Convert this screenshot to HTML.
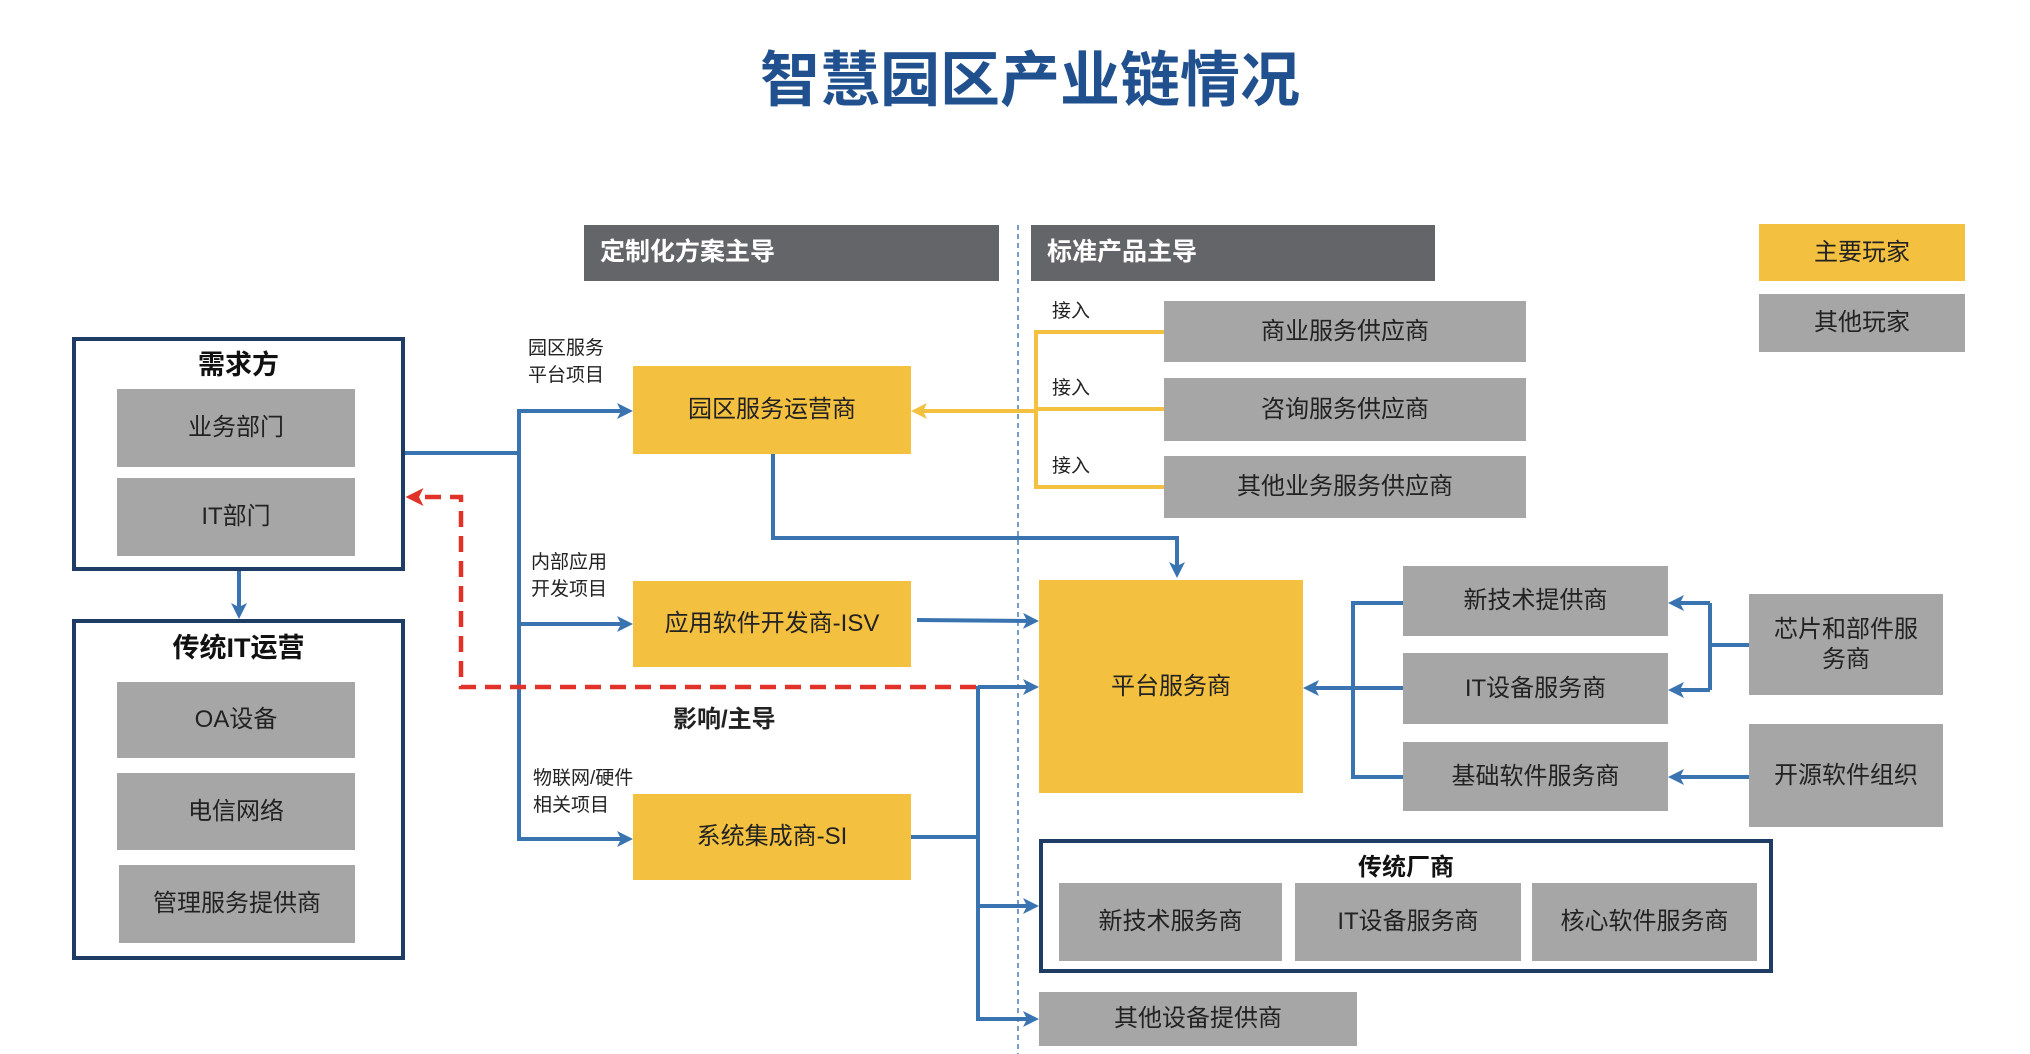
<!DOCTYPE html>
<html><head><meta charset="utf-8"><style>
body{margin:0;width:2030px;height:1054px;background:#fff;position:relative;overflow:hidden;font-family:"Liberation Sans","Noto Sans CJK SC",sans-serif;}
.b{position:absolute;display:flex;align-items:center;justify-content:center;text-align:center;font-size:24px;color:#222;box-sizing:border-box;line-height:1.25}
.g{background:#a6a6a6}
.y{background:#f3c03f}
.h{background:#646569;color:#fff;font-weight:bold;justify-content:flex-start;padding-left:16px;font-size:25px}
.f{position:absolute;border:4px solid #1f3c64;box-sizing:border-box}
.t{position:absolute;font-size:19px;color:#222;line-height:1.4}
.ti{position:absolute;font-weight:bold;font-size:27px;color:#111;text-align:center}
svg{position:absolute;left:0;top:0}
</style></head><body>
<div style="position:absolute;left:700px;width:660px;top:32px;text-align:center;font-size:60px;font-weight:bold;color:#21508f;">智慧园区产业链情况</div>

<div class="b h" style="left:584px;top:225px;width:415px;height:56px">定制化方案主导</div>
<div class="b h" style="left:1031px;top:225px;width:404px;height:56px">标准产品主导</div>
<div class="b y" style="left:1759px;top:224px;width:206px;height:57px">主要玩家</div>
<div class="b g" style="left:1759px;top:294px;width:206px;height:58px">其他玩家</div>

<div class="f" style="left:72px;top:337px;width:333px;height:234px"></div>
<div class="ti" style="left:72px;top:343px;width:333px">需求方</div>
<div class="b g" style="left:117px;top:389px;width:238px;height:78px">业务部门</div>
<div class="b g" style="left:117px;top:478px;width:238px;height:78px">IT部门</div>

<div class="f" style="left:72px;top:619px;width:333px;height:341px"></div>
<div class="ti" style="left:72px;top:626px;width:333px">传统IT运营</div>
<div class="b g" style="left:117px;top:682px;width:238px;height:76px">OA设备</div>
<div class="b g" style="left:117px;top:773px;width:238px;height:77px">电信网络</div>
<div class="b g" style="left:119px;top:865px;width:236px;height:78px">管理服务提供商</div>

<div class="t" style="left:528px;top:336px">园区服务<br>平台项目</div>
<div class="t" style="left:531px;top:550px">内部应用<br>开发项目</div>
<div class="t" style="left:533px;top:766px">物联网/硬件<br>相关项目</div>
<div class="b y" style="left:633px;top:366px;width:278px;height:88px">园区服务运营商</div>
<div class="b y" style="left:633px;top:581px;width:278px;height:86px">应用软件开发商-ISV</div>
<div class="b y" style="left:633px;top:794px;width:278px;height:86px">系统集成商-SI</div>
<div style="position:absolute;left:673px;top:699px;font-size:24px;font-weight:bold;color:#222">影响/主导</div>

<div class="t" style="left:1052px;top:299px">接入</div>
<div class="t" style="left:1052px;top:376px">接入</div>
<div class="t" style="left:1052px;top:454px">接入</div>
<div class="b g" style="left:1164px;top:301px;width:362px;height:61px">商业服务供应商</div>
<div class="b g" style="left:1164px;top:378px;width:362px;height:63px">咨询服务供应商</div>
<div class="b g" style="left:1164px;top:456px;width:362px;height:62px">其他业务服务供应商</div>

<div class="b y" style="left:1039px;top:580px;width:264px;height:213px">平台服务商</div>
<div class="b g" style="left:1403px;top:566px;width:265px;height:70px">新技术提供商</div>
<div class="b g" style="left:1403px;top:653px;width:265px;height:71px">IT设备服务商</div>
<div class="b g" style="left:1403px;top:742px;width:265px;height:69px">基础软件服务商</div>
<div class="b g" style="left:1749px;top:594px;width:194px;height:101px">芯片和部件服<br>务商</div>
<div class="b g" style="left:1749px;top:724px;width:194px;height:103px">开源软件组织</div>

<div class="f" style="left:1039px;top:839px;width:734px;height:134px"></div>
<div class="ti" style="left:1039px;top:847px;width:734px;font-size:24px">传统厂商</div>
<div class="b g" style="left:1059px;top:883px;width:223px;height:78px">新技术服务商</div>
<div class="b g" style="left:1295px;top:883px;width:226px;height:78px">IT设备服务商</div>
<div class="b g" style="left:1532px;top:883px;width:225px;height:78px">核心软件服务商</div>
<div class="b g" style="left:1039px;top:992px;width:318px;height:54px">其他设备提供商</div>

<svg width="2030" height="1054" viewBox="0 0 2030 1054">
<defs>
<marker id="ab" markerWidth="4" markerHeight="4" refX="3" refY="2" orient="auto" markerUnits="strokeWidth"><path d="M0,0L4,2L0,4L1,2z" fill="#3a74b0"/></marker>
<marker id="ay" markerWidth="4" markerHeight="4" refX="3" refY="2" orient="auto" markerUnits="strokeWidth"><path d="M0,0L4,2L0,4L1,2z" fill="#f3c03f"/></marker>
<marker id="ar" markerWidth="4" markerHeight="4" refX="3" refY="2" orient="auto" markerUnits="strokeWidth"><path d="M0,0L4,2L0,4L1,2z" fill="#e03228"/></marker>
</defs>
<line x1="1018" y1="225" x2="1018" y2="1054" stroke="#4a7bb5" stroke-width="1.5" stroke-dasharray="5,4"/>
<g fill="none" stroke="#3a74b0" stroke-width="4">
<line x1="239" y1="571" x2="239" y2="615" marker-end="url(#ab)"/>
<polyline points="405,453 519,453"/>
<line x1="519" y1="409" x2="519" y2="841"/>
<line x1="519" y1="411" x2="629" y2="411" marker-end="url(#ab)"/>
<line x1="519" y1="624" x2="629" y2="624" marker-end="url(#ab)"/>
<line x1="519" y1="839" x2="629" y2="839" marker-end="url(#ab)"/>
<polyline points="773,454 773,538 1177,538 1177,574" marker-end="url(#ab)"/>
<line x1="917" y1="620" x2="1035" y2="621" marker-end="url(#ab)"/>
<polyline points="911,837 978,837"/>
<line x1="978" y1="686" x2="978" y2="1021"/>
<line x1="978" y1="687" x2="1035" y2="687" marker-end="url(#ab)"/>
<line x1="978" y1="906" x2="1035" y2="906" marker-end="url(#ab)"/>
<line x1="978" y1="1019" x2="1035" y2="1019" marker-end="url(#ab)"/>
<polyline points="1403,603 1353,603 1353,777 1403,777"/>
<line x1="1403" y1="688" x2="1307" y2="688" marker-end="url(#ab)"/>
<line x1="1749" y1="645" x2="1710" y2="645"/>
<polyline points="1710,603 1710,690"/>
<line x1="1710" y1="603" x2="1672" y2="603" marker-end="url(#ab)"/>
<line x1="1710" y1="690" x2="1672" y2="690" marker-end="url(#ab)"/>
<line x1="1749" y1="777" x2="1672" y2="777" marker-end="url(#ab)"/>
</g>
<g fill="none" stroke="#f3c03f" stroke-width="4">
<polyline points="1164,332 1036,332 1036,487 1164,487"/>
<line x1="1164" y1="409" x2="1036" y2="409"/>
<line x1="1036" y1="411" x2="915" y2="411" marker-end="url(#ay)"/>
</g>
<g fill="none" stroke="#e03228" stroke-width="4.5" stroke-dasharray="16,9">
<polyline points="976,687 461,687 461,497 410,497" marker-end="url(#ar)"/>
</g>
</svg>
</body></html>
